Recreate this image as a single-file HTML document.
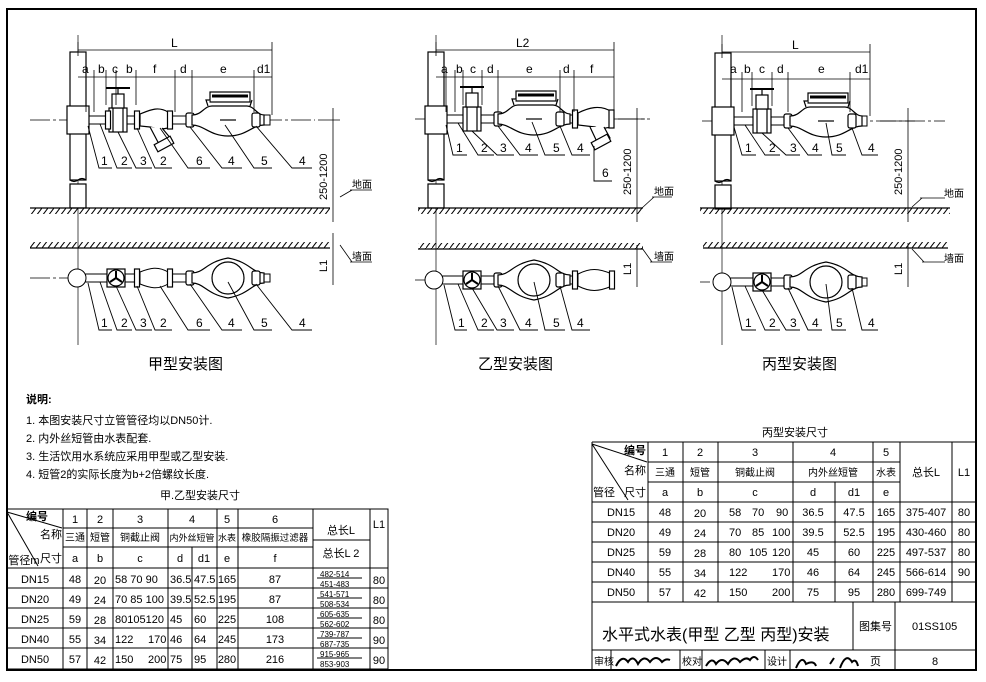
<!DOCTYPE html>
<html><head><meta charset="utf-8"><style>
html,body{margin:0;padding:0;background:#fff;}
svg{display:block;font-family:"Liberation Sans","Noto Sans CJK SC",sans-serif;}
text{fill:#000;}
.t{font-size:12px;}
</style></head><body>
<svg width="986" height="682" viewBox="0 0 986 682" xmlns="http://www.w3.org/2000/svg">
<defs>
<pattern id="h" width="6" height="8" patternUnits="userSpaceOnUse"><line x1="0" y1="8" x2="6" y2="0" stroke="#000" stroke-width="1"/></pattern>
<g id="valveE" fill="#fff" stroke="#000" stroke-width="1.2">
 <rect x="-9" y="-12" width="18" height="24"/><rect x="-6" y="-26" width="12" height="14"/>
 <line x1="0" y1="-26" x2="0" y2="-32"/><line x1="-12" y1="-32" x2="12" y2="-32" stroke-width="2"/>
 <line x1="-5" y1="-12" x2="-5" y2="12"/><line x1="5" y1="-12" x2="5" y2="12"/>
</g>
<g id="meterE" fill="#fff" stroke="#000" stroke-width="1.2">
 <path d="M0,-5 C10,-5 12,-14 20,-14 L55,-14 C62,-14 65,-5 72,-5 L72,5 C60,5 55,16 36,16 C18,16 12,5 0,5 Z"/>
 <rect x="18" y="-28" width="40" height="10"/><line x1="20" y1="-24" x2="56" y2="-24" stroke-width="3"/>
 <path d="M16,-14 L14,-20 L18,-20"/><path d="M58,-14 L60,-20"/>
 <line x1="28" y1="0" x2="44" y2="0"/>
</g>
<g id="meterP" fill="#fff" stroke="#000" stroke-width="1.2">
 <path d="M0,-5 C12,-5 14,-16 36,-20 C58,-16 60,-5 72,-5 L72,5 C60,5 58,16 36,20 C14,16 12,5 0,5 Z"/>
 <circle cx="36" cy="0" r="16"/>
</g>
<g id="valveP" fill="#fff" stroke="#000" stroke-width="1.2">
 <rect x="-9" y="-9" width="18" height="18"/><circle cx="0" cy="0" r="8"/>
 <path d="M0,0 L0,-7 M0,0 L6,4 M0,0 L-6,4" stroke-width="2"/>
</g>
<g id="nut" fill="#fff" stroke="#000" stroke-width="1.2"><rect x="-4" y="-7" width="8" height="14" rx="2"/></g>
<g id="fl" fill="#fff" stroke="#000" stroke-width="1.2"><rect x="-2.5" y="-9" width="5" height="18"/></g>
<g id="riser" fill="#fff" stroke="#000" stroke-width="1.2">
 <rect x="0" y="0" width="16" height="128"/><rect x="0" y="132" width="16" height="24"/>
 <rect x="-3" y="54" width="22" height="28"/>
 <path d="M0,128 q4,3 8,0 q4,-3 8,0" fill="none"/>
</g>
</defs>

<rect x="7" y="9" width="969" height="661" fill="none" stroke="#000" stroke-width="2"/>

<!-- ===== Panel 1 ===== -->
<g stroke="#000" fill="none" stroke-width="1">
 <line x1="30" y1="120" x2="315" y2="120" stroke-dasharray="20,3,3,3" stroke-width="0.7"/>
 <line x1="78" y1="35" x2="78" y2="345" stroke-width="0.7"/>
 <rect x="88" y="116" width="182" height="8" fill="#fff"/>
 <rect x="252" y="115" width="18" height="10" fill="#fff"/>
</g>
<use href="#riser" x="70" y="52"/>
<use href="#valveE" x="118" y="120"/>
<use href="#fl" x="108" y="120"/><use href="#fl" x="137" y="120"/>
<g fill="#fff" stroke="#000" stroke-width="1.2"><path d="M140,114 C150,110 158,106 168,112 L168,128 C160,130 156,128 150,127 L140,126 Z"/><path d="M150,127 L160,146 L172,140 L162,128"/><rect x="155" y="140" width="18" height="8" transform="rotate(-28 164 144)"/></g>
<use href="#fl" x="170" y="120"/>
<use href="#nut" x="190" y="120"/>
<use href="#meterE" x="192" y="120"/>
<use href="#nut" x="256" y="120"/>
<g stroke="#000" stroke-width="0.8" fill="none">
 <line x1="78" y1="50" x2="272" y2="50"/>
 <line x1="78" y1="77" x2="272" y2="77"/>
 <path d="M272,42 V115 M78,42 V56"/>
 <path d="M86,70 V112 M94,70 V112 M106,70 V105 M116,70 V105 M136,70 V105 M175,70 V112 M192,70 V112 M254,70 V112"/>
 <line x1="333" y1="108" x2="333" y2="222"/><line x1="318" y1="120" x2="340" y2="120"/>
 <line x1="333" y1="233" x2="333" y2="285"/>
 <line x1="340" y1="197" x2="352" y2="190"/><line x1="350" y1="190" x2="372" y2="190"/>
 <line x1="340" y1="245" x2="352" y2="262"/><line x1="350" y1="262" x2="372" y2="262"/>
</g>
<g class="t" font-size="12"><text x="171" y="47">L</text>
<text x="82" y="73">a</text><text x="98" y="73">b</text><text x="112" y="73">c</text><text x="126" y="73">b</text><text x="153" y="73">f</text><text x="180" y="73">d</text><text x="220" y="73">e</text><text x="257" y="73">d1</text>
<text transform="translate(327,200) rotate(-90)" font-size="11">250-1200</text>
<text transform="translate(327,272) rotate(-90)" font-size="11">L1</text>
<text x="352" y="188" font-size="10">地面</text><text x="352" y="260" font-size="10">墙面</text></g>
<rect x="30" y="208" width="300" height="6" fill="url(#h)"/><line x1="30" y1="208" x2="330" y2="208" stroke="#000" stroke-width="1.2"/>
<rect x="30" y="242" width="300" height="6" fill="url(#h)"/><line x1="30" y1="248" x2="330" y2="248" stroke="#000" stroke-width="1.2"/>
<g stroke="#000" stroke-width="0.9" fill="none">
 <path d="M88,126 L99,168 H112"/><path d="M100,124 L117,168 H132"/><path d="M118,132 L136,168 H152"/><path d="M137,128 L155,168 H172"/>
 <path d="M160,128 L188,168 H210"/><path d="M190,127 L222,168 H242"/><path d="M225,125 L254,168 H272"/><path d="M256,126 L292,168 H312"/>
</g>
<g class="t"><text x="101" y="165">1</text><text x="121" y="165">2</text><text x="140" y="165">3</text><text x="160" y="165">2</text><text x="196" y="165">6</text><text x="228" y="165">4</text><text x="261" y="165">5</text><text x="299" y="165">4</text></g>
<g stroke="#000" stroke-width="1" fill="#fff">
 <line x1="30" y1="278" x2="80" y2="278" stroke-dasharray="20,3,3,3" stroke-width="0.7"/>
 <rect x="84" y="274" width="186" height="8"/>
 <circle cx="77" cy="278" r="9"/>
 <path d="M140,272 C150,268 158,266 168,272 L168,284 C158,290 150,288 140,284 Z"/>
</g>
<use href="#valveP" x="116" y="278"/><use href="#fl" x="137" y="278"/><use href="#fl" x="170" y="278"/><use href="#nut" x="190" y="278"/>
<use href="#meterP" x="192" y="278"/><use href="#nut" x="256" y="278"/>
<g stroke="#000" stroke-width="0.9" fill="none">
 <path d="M88,283 L99,330 H112"/><path d="M100,282 L117,330 H132"/><path d="M116,286 L136,330 H152"/><path d="M137,286 L155,330 H172"/>
 <path d="M160,286 L188,330 H210"/><path d="M190,284 L222,330 H242"/><path d="M228,282 L254,330 H272"/><path d="M256,284 L292,330 H312"/>
</g>
<g class="t"><text x="101" y="327">1</text><text x="121" y="327">2</text><text x="140" y="327">3</text><text x="160" y="327">2</text><text x="196" y="327">6</text><text x="228" y="327">4</text><text x="261" y="327">5</text><text x="299" y="327">4</text></g>
<text x="148" y="369" font-size="15">甲型安装图</text>

<!-- ===== Panel 2 ===== -->
<g stroke="#000" fill="none" stroke-width="1">
 <line x1="415" y1="119" x2="650" y2="119" stroke-dasharray="20,3,3,3" stroke-width="0.7"/>
 <line x1="436" y1="35" x2="436" y2="345" stroke-width="0.7"/>
 <rect x="446" y="115" width="135" height="8" fill="#fff"/>
</g>
<use href="#riser" x="428" y="52"/>
<use href="#valveE" x="472" y="119"/>
<use href="#nut" x="498" y="119"/>
<use href="#meterE" x="498" y="119"/>
<use href="#nut" x="560" y="119"/><use href="#fl" x="575" y="119"/>
<g fill="#fff" stroke="#000" stroke-width="1.2"><path d="M578,113 C588,108 600,104 612,112 L612,127 C604,128 600,130 595,127 L578,125 Z"/><path d="M590,127 L598,144 L610,138 L604,127"/><rect x="592" y="138" width="18" height="8" transform="rotate(-28 601 142)"/><rect x="609" y="110" width="5" height="18"/></g>
<g stroke="#000" stroke-width="0.8" fill="none">
 <line x1="436" y1="50" x2="614" y2="50"/><line x1="436" y1="77" x2="614" y2="77"/>
 <path d="M614,42 V110 M436,42 V56 M446,70 V112 M455,70 V112 M463,70 V105 M482,70 V105 M498,70 V112 M560,70 V112 M574,70 V112"/>
 <line x1="637" y1="108" x2="637" y2="222"/><line x1="615" y1="119" x2="645" y2="119"/>
 <line x1="637" y1="245" x2="637" y2="287"/>
 <line x1="642" y1="208" x2="654" y2="197"/><line x1="652" y1="197" x2="672" y2="197"/>
 <line x1="642" y1="248" x2="652" y2="262"/><line x1="650" y1="262" x2="672" y2="262"/>
</g>
<g class="t"><text x="516" y="47">L2</text>
<text x="441" y="73">a</text><text x="456" y="73">b</text><text x="470" y="73">c</text><text x="487" y="73">d</text><text x="526" y="73">e</text><text x="563" y="73">d</text><text x="590" y="73">f</text>
<text transform="translate(631,195) rotate(-90)" font-size="11">250-1200</text>
<text transform="translate(631,275) rotate(-90)" font-size="11">L1</text>
<text x="654" y="195" font-size="10">地面</text><text x="654" y="260" font-size="10">墙面</text></g>
<rect x="418" y="208" width="225" height="6" fill="url(#h)"/><line x1="418" y1="208" x2="643" y2="208" stroke="#000" stroke-width="1.2"/>
<rect x="418" y="243" width="225" height="6" fill="url(#h)"/><line x1="418" y1="249" x2="643" y2="249" stroke="#000" stroke-width="1.2"/>
<g stroke="#000" stroke-width="0.9" fill="none">
 <path d="M446,125 L453,155 H467"/><path d="M458,123 L478,155 H494"/><path d="M472,131 L497,155 H514"/><path d="M498,126 L520,155 H538"/>
 <path d="M532,122 L545,155 H565"/><path d="M560,126 L572,155 H590"/><path d="M594,146 V181 H612"/>
</g>
<g class="t"><text x="456" y="152">1</text><text x="481" y="152">2</text><text x="500" y="152">3</text><text x="525" y="152">4</text><text x="553" y="152">5</text><text x="577" y="152">4</text><text x="602" y="177">6</text></g>
<g stroke="#000" stroke-width="1" fill="#fff">
 <line x1="415" y1="280" x2="436" y2="280" stroke-dasharray="10,3" stroke-width="0.7"/>
 <rect x="442" y="276" width="170" height="8"/><circle cx="434" cy="280" r="9"/>
 <path d="M578,274 C590,268 598,268 612,274 L612,286 C598,292 590,292 578,286 Z"/>
</g>
<use href="#valveP" x="472" y="280"/><use href="#nut" x="498" y="280"/><use href="#meterP" x="498" y="280"/><use href="#nut" x="560" y="280"/><use href="#fl" x="575" y="280"/><use href="#fl" x="612" y="280"/>
<g stroke="#000" stroke-width="0.9" fill="none">
 <path d="M444,285 L455,330 H467"/><path d="M458,284 L478,330 H494"/><path d="M472,288 L497,330 H514"/><path d="M498,286 L520,330 H538"/>
 <path d="M534,282 L545,330 H565"/><path d="M560,286 L572,330 H590"/>
</g>
<g class="t"><text x="458" y="327">1</text><text x="481" y="327">2</text><text x="500" y="327">3</text><text x="525" y="327">4</text><text x="553" y="327">5</text><text x="577" y="327">4</text></g>
<text x="478" y="369" font-size="15">乙型安装图</text>

<!-- ===== Panel 3 ===== -->
<g stroke="#000" fill="none" stroke-width="1">
 <line x1="702" y1="121" x2="945" y2="121" stroke-dasharray="20,3,3,3" stroke-width="0.7"/>
 <line x1="722" y1="35" x2="722" y2="345" stroke-width="0.7"/>
 <rect x="732" y="117" width="135" height="8" fill="#fff"/>
 <rect x="853" y="116" width="14" height="10" fill="#fff"/>
</g>
<use href="#riser" x="715" y="53"/>
<use href="#valveE" x="762" y="121"/>
<use href="#nut" x="788" y="121"/>
<use href="#meterE" x="790" y="121"/>
<use href="#nut" x="852" y="121"/>
<g stroke="#000" stroke-width="0.8" fill="none">
 <line x1="722" y1="52" x2="870" y2="52"/><line x1="722" y1="79" x2="870" y2="79"/>
 <path d="M870,44 V116 M722,44 V58 M742,72 V112 M752,72 V106 M772,72 V106 M788,72 V112 M850,72 V112"/>
 <line x1="908" y1="108" x2="908" y2="222"/><line x1="880" y1="121" x2="915" y2="121"/>
 <line x1="908" y1="243" x2="908" y2="287"/>
 <line x1="912" y1="207" x2="922" y2="198"/><line x1="920" y1="198" x2="945" y2="198"/>
 <line x1="912" y1="249" x2="924" y2="262"/><line x1="922" y1="262" x2="945" y2="262"/>
</g>
<g class="t"><text x="792" y="49">L</text>
<text x="730" y="73">a</text><text x="744" y="73">b</text><text x="759" y="73">c</text><text x="777" y="73">d</text><text x="818" y="73">e</text><text x="855" y="73">d1</text>
<text transform="translate(902,195) rotate(-90)" font-size="11">250-1200</text>
<text transform="translate(902,275) rotate(-90)" font-size="11">L1</text>
<text x="944" y="197" font-size="10">地面</text><text x="944" y="262" font-size="10">墙面</text></g>
<rect x="700" y="208" width="250" height="6" fill="url(#h)"/><line x1="700" y1="208" x2="950" y2="208" stroke="#000" stroke-width="1.2"/>
<rect x="703" y="242" width="245" height="6" fill="url(#h)"/><line x1="703" y1="248" x2="948" y2="248" stroke="#000" stroke-width="1.2"/>
<g stroke="#000" stroke-width="0.9" fill="none">
 <path d="M734,127 L742,155 H756"/><path d="M745,125 L765,155 H780"/><path d="M762,133 L786,155 H800"/><path d="M788,128 L808,155 H822"/>
 <path d="M826,123 L832,155 H846"/><path d="M852,128 L862,155 H878"/>
</g>
<g class="t"><text x="745" y="152">1</text><text x="769" y="152">2</text><text x="790" y="152">3</text><text x="812" y="152">4</text><text x="836" y="152">5</text><text x="868" y="152">4</text></g>
<g stroke="#000" stroke-width="1" fill="#fff">
 <line x1="700" y1="282" x2="722" y2="282" stroke-dasharray="10,3" stroke-width="0.7"/>
 <rect x="728" y="278" width="139" height="8"/><circle cx="722" cy="282" r="9"/>
</g>
<use href="#valveP" x="762" y="282"/><use href="#nut" x="788" y="282"/><use href="#meterP" x="790" y="282"/><use href="#nut" x="852" y="282"/>
<g stroke="#000" stroke-width="0.9" fill="none">
 <path d="M732,287 L742,330 H756"/><path d="M745,286 L765,330 H780"/><path d="M762,290 L786,330 H800"/><path d="M788,288 L808,330 H822"/>
 <path d="M826,284 L832,330 H846"/><path d="M852,288 L862,330 H878"/>
</g>
<g class="t"><text x="745" y="327">1</text><text x="769" y="327">2</text><text x="790" y="327">3</text><text x="812" y="327">4</text><text x="836" y="327">5</text><text x="868" y="327">4</text></g>
<text x="762" y="369" font-size="15">丙型安装图</text>

<!-- notes -->
<g font-size="11"><text x="26" y="403" font-weight="bold">说明:</text>
<text x="26" y="424">1. 本图安装尺寸立管管径均以DN50计.</text>
<text x="26" y="442">2. 内外丝短管由水表配套.</text>
<text x="26" y="460">3. 生活饮用水系统应采用甲型或乙型安装.</text>
<text x="26" y="478">4. 短管2的实际长度为b+2倍螺纹长度.</text></g>

<!-- left table -->
<text x="160" y="499" font-size="11">甲.乙型安装尺寸</text>
<g stroke="#000" stroke-width="1" fill="none">
 <rect x="7" y="509" width="381" height="160"/>
 <line x1="7" y1="568" x2="388" y2="568"/><line x1="7" y1="588" x2="388" y2="588"/><line x1="7" y1="608" x2="388" y2="608"/><line x1="7" y1="628" x2="388" y2="628"/><line x1="7" y1="648" x2="388" y2="648"/>
 <line x1="63" y1="528" x2="313" y2="528"/><line x1="63" y1="547" x2="313" y2="547"/><line x1="313" y1="540" x2="370" y2="540"/>
 <line x1="63" y1="509" x2="63" y2="669"/><line x1="87" y1="509" x2="87" y2="669"/><line x1="113" y1="509" x2="113" y2="669"/><line x1="168" y1="509" x2="168" y2="669"/>
 <line x1="192" y1="547" x2="192" y2="669"/><line x1="217" y1="509" x2="217" y2="669"/><line x1="238" y1="509" x2="238" y2="669"/><line x1="313" y1="509" x2="313" y2="669"/><line x1="370" y1="509" x2="370" y2="669"/>
 <line x1="7" y1="512" x2="62" y2="528"/><line x1="7" y1="512" x2="38" y2="566"/>
 <line x1="317" y1="578" x2="362" y2="578"/><line x1="317" y1="598" x2="362" y2="598"/><line x1="317" y1="618" x2="362" y2="618"/><line x1="317" y1="638" x2="362" y2="638"/><line x1="317" y1="658" x2="362" y2="658"/>
</g>
<g font-size="11" text-anchor="middle">
 <text x="48" y="520" text-anchor="end" font-weight="bold">编号</text><text x="62" y="538" text-anchor="end">名称</text><text x="62" y="562" text-anchor="end">尺寸</text><text x="24" y="564">管径m</text>
 <text x="75" y="523">1</text><text x="100" y="523">2</text><text x="140" y="523">3</text><text x="192" y="523">4</text><text x="227" y="523">5</text><text x="275" y="523">6</text>
 <text x="75" y="541" font-size="10">三通</text><text x="100" y="541" font-size="10">短管</text><text x="140" y="541" font-size="10">铜截止阀</text><text x="192" y="541" font-size="9">内外丝短管</text><text x="227" y="541" font-size="9">水表</text><text x="275" y="541" font-size="9.5">橡胶隔振过滤器</text>
 <text x="75" y="562">a</text><text x="100" y="562">b</text><text x="140" y="562">c</text><text x="180" y="562">d</text><text x="204" y="562">d1</text><text x="227" y="562">e</text><text x="275" y="562">f</text>
 <text x="341" y="534">总长L</text><text x="341" y="557">总长L 2</text><text x="379" y="528">L1</text>
</g>
<g font-size="11">
 <g text-anchor="middle"><text x="35" y="583">DN15</text><text x="35" y="603">DN20</text><text x="35" y="623">DN25</text><text x="35" y="643">DN40</text><text x="35" y="663">DN50</text>
 <text x="75" y="583">48</text><text x="75" y="603">49</text><text x="75" y="623">59</text><text x="75" y="643">55</text><text x="75" y="663">57</text>
 <text x="100" y="584">20</text><text x="100" y="604">24</text><text x="100" y="624">28</text><text x="100" y="644">34</text><text x="100" y="664">42</text>
 <text x="227" y="583">165</text><text x="227" y="603">195</text><text x="227" y="623">225</text><text x="227" y="643">245</text><text x="227" y="663">280</text>
 <text x="275" y="583">87</text><text x="275" y="603">87</text><text x="275" y="623">108</text><text x="275" y="643">173</text><text x="275" y="663">216</text>
 <text x="379" y="584">80</text><text x="379" y="604">80</text><text x="379" y="624">80</text><text x="379" y="644">90</text><text x="379" y="664">90</text></g>
 <text x="115" y="583">58 70 90</text><text x="115" y="603">70 85 100</text><text x="115" y="623">80105120</text><text x="115" y="643">122</text><text x="148" y="643">170</text><text x="115" y="663">150</text><text x="148" y="663">200</text>
 <text x="170" y="583">36.5</text><text x="194" y="583">47.5</text><text x="170" y="603">39.5</text><text x="194" y="603">52.5</text><text x="170" y="623">45</text><text x="194" y="623">60</text><text x="170" y="643">46</text><text x="194" y="643">64</text><text x="170" y="663">75</text><text x="194" y="663">95</text>
 <g font-size="8"><text x="320" y="577">482-514</text><text x="320" y="587">451-483</text><text x="320" y="597">541-571</text><text x="320" y="607">508-534</text><text x="320" y="617">605-635</text><text x="320" y="627">562-602</text><text x="320" y="637">739-787</text><text x="320" y="647">687-735</text><text x="320" y="657">915-965</text><text x="320" y="667">853-903</text></g>
</g>

<!-- right table -->
<text x="762" y="436" font-size="11">丙型安装尺寸</text>
<g stroke="#000" stroke-width="1" fill="none">
 <line x1="592" y1="442" x2="976" y2="442"/><line x1="592" y1="442" x2="592" y2="670"/>
 <line x1="592" y1="502" x2="976" y2="502"/><line x1="592" y1="522" x2="976" y2="522"/><line x1="592" y1="542" x2="976" y2="542"/><line x1="592" y1="562" x2="976" y2="562"/><line x1="592" y1="582" x2="976" y2="582"/><line x1="592" y1="602" x2="976" y2="602"/>
 <line x1="648" y1="462" x2="900" y2="462"/><line x1="648" y1="482" x2="900" y2="482"/>
 <line x1="648" y1="442" x2="648" y2="602"/><line x1="683" y1="442" x2="683" y2="602"/><line x1="718" y1="442" x2="718" y2="602"/><line x1="793" y1="442" x2="793" y2="602"/><line x1="835" y1="482" x2="835" y2="602"/><line x1="873" y1="442" x2="873" y2="602"/><line x1="900" y1="442" x2="900" y2="602"/><line x1="952" y1="442" x2="952" y2="602"/>
 <line x1="592" y1="444" x2="647" y2="462"/><line x1="592" y1="444" x2="628" y2="500"/>
 <line x1="853" y1="602" x2="853" y2="650"/><line x1="895" y1="602" x2="895" y2="670"/>
 <line x1="592" y1="650" x2="976" y2="650"/>
 <line x1="611" y1="650" x2="611" y2="670"/><line x1="680" y1="650" x2="680" y2="670"/><line x1="702" y1="650" x2="702" y2="670"/><line x1="765" y1="650" x2="765" y2="670"/><line x1="790" y1="650" x2="790" y2="670"/>
</g>
<line x1="592" y1="670" x2="976" y2="670" stroke="#000" stroke-width="2"/>
<g font-size="11" text-anchor="middle">
 <text x="646" y="454" text-anchor="end" font-weight="bold">编号</text><text x="646" y="474" text-anchor="end">名称</text><text x="646" y="496" text-anchor="end">尺寸</text><text x="604" y="496">管径</text>
 <text x="665" y="456">1</text><text x="700" y="456">2</text><text x="755" y="456">3</text><text x="833" y="456">4</text><text x="886" y="456">5</text>
 <text x="665" y="476" font-size="10">三通</text><text x="700" y="476" font-size="10">短管</text><text x="755" y="476" font-size="10">铜截止阀</text><text x="833" y="476" font-size="10">内外丝短管</text><text x="886" y="476" font-size="10">水表</text>
 <text x="665" y="496">a</text><text x="700" y="496">b</text><text x="755" y="496">c</text><text x="813" y="496">d</text><text x="854" y="496">d1</text><text x="886" y="496">e</text>
 <text x="926" y="476">总长L</text><text x="964" y="476">L1</text>
 <text x="621" y="516">DN15</text><text x="621" y="536">DN20</text><text x="621" y="556">DN25</text><text x="621" y="576">DN40</text><text x="621" y="596">DN50</text>
 <text x="665" y="516">48</text><text x="665" y="536">49</text><text x="665" y="556">59</text><text x="665" y="576">55</text><text x="665" y="596">57</text>
 <text x="700" y="517">20</text><text x="700" y="537">24</text><text x="700" y="557">28</text><text x="700" y="577">34</text><text x="700" y="597">42</text>
 <text x="813" y="516">36.5</text><text x="813" y="536">39.5</text><text x="813" y="556">45</text><text x="813" y="576">46</text><text x="813" y="596">75</text>
 <text x="854" y="516">47.5</text><text x="854" y="536">52.5</text><text x="854" y="556">60</text><text x="854" y="576">64</text><text x="854" y="596">95</text>
 <text x="886" y="516">165</text><text x="886" y="536">195</text><text x="886" y="556">225</text><text x="886" y="576">245</text><text x="886" y="596">280</text>
 <text x="926" y="516">375-407</text><text x="926" y="536">430-460</text><text x="926" y="556">497-537</text><text x="926" y="576">566-614</text><text x="926" y="596">699-749</text>
 <text x="964" y="516">80</text><text x="964" y="536">80</text><text x="964" y="556">80</text><text x="964" y="576">90</text>
</g>
<g font-size="11">
 <text x="729" y="516">58</text><text x="752" y="516">70</text><text x="776" y="516">90</text>
 <text x="729" y="536">70</text><text x="752" y="536">85</text><text x="772" y="536">100</text>
 <text x="729" y="556">80</text><text x="749" y="556">105</text><text x="772" y="556">120</text>
 <text x="729" y="576">122</text><text x="772" y="576">170</text><text x="729" y="596">150</text><text x="772" y="596">200</text>
 <text x="602" y="640" font-size="16">水平式水表(甲型 乙型 丙型)安装</text>
 <text x="859" y="630">图集号</text><text x="912" y="630">01SS105</text>
 <text x="594" y="665" font-size="10">审核</text><text x="682" y="665" font-size="10">校对</text><text x="767" y="665" font-size="10">设计</text>
 <text x="870" y="665">页</text><text x="932" y="665">8</text>
</g>
<g stroke="#000" stroke-width="2" fill="none">
 <path d="M616,666 q6,-12 12,-4 q5,-8 10,2 q6,-10 12,-2 q6,-8 12,0 q4,-4 8,-2"/>
 <path d="M706,666 q6,-10 10,-2 q6,-8 12,0 q6,-10 12,-2 q6,-6 10,-2 q4,-6 8,0"/>
 <path d="M796,668 q6,-14 10,-4 q8,-4 10,2 M830,664 l4,-6 M840,668 q6,-16 12,-6 q4,-4 6,4"/>
</g>
</svg>
</body></html>
